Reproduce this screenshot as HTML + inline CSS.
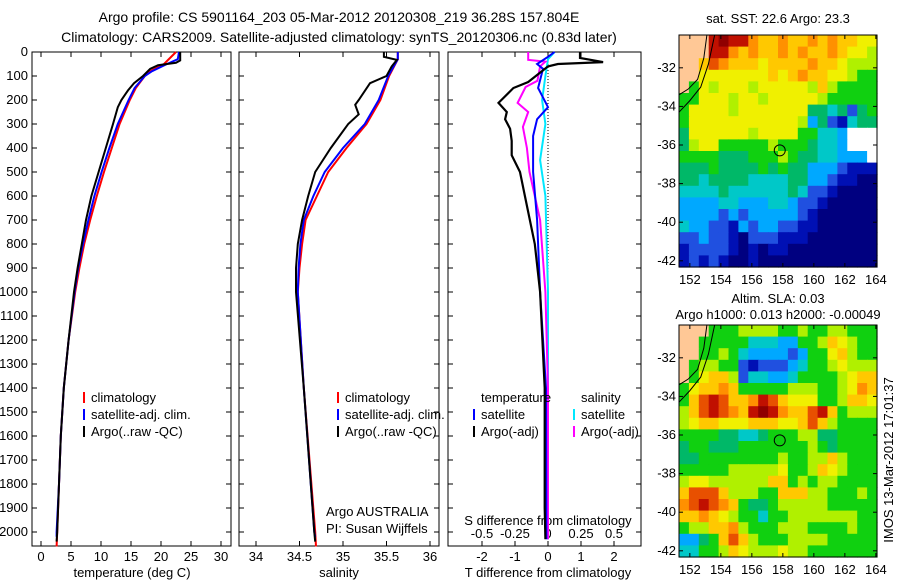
<!DOCTYPE html>
<html><head><meta charset="utf-8"><style>
html,body{margin:0;padding:0;background:#fff;}
svg{display:block;font-family:"Liberation Sans",Arial,sans-serif;}
</style></head><body>
<svg id="fig" width="900" height="580" viewBox="0 0 900 580" xmlns="http://www.w3.org/2000/svg">
<text x="339" y="22" font-size="14" text-anchor="middle">Argo profile: CS 5901164_203 05-Mar-2012 20120308_219 36.28S 157.804E</text>
<text x="339" y="42" font-size="14" text-anchor="middle">Climatology: CARS2009. Satellite-adjusted climatology: synTS_20120306.nc (0.83d later)</text>
<text x="778" y="23" font-size="13" text-anchor="middle">sat. SST: 22.6 Argo: 23.3</text>
<text x="778" y="303" font-size="13" text-anchor="middle">Altim. SLA: 0.03</text>
<text x="778" y="319" font-size="13" text-anchor="middle">Argo h1000: 0.013 h2000: -0.00049</text>
<text x="0" y="0" font-size="13" text-anchor="middle" transform="translate(893,460) rotate(-90)">IMOS 13-Mar-2012 17:01:37</text>
<g id="g"></g>
</svg>
<script>
// ---- profile data ----
const argoTDepth=[0,35,45,55,70,100,130,160,200,230,300,400,500,600,700,800,900,1000,1200,1400,1600,1800,2000,2040];
const argoTVal=[23.2,23.2,22.5,19.5,18.2,17.0,15.5,14.5,13.4,12.8,12.0,10.8,9.6,8.4,7.5,6.8,6.1,5.5,4.6,3.8,3.3,3.0,2.7,2.6];
const climTDepth=[0,50,80,100,150,200,300,400,500,600,700,800,900,1000,1200,1400,1600,1800,2000,2060];
const climTVal=[22.5,20.5,18.2,17.3,15.8,14.8,13.1,11.8,10.5,9.3,8.2,7.2,6.4,5.7,4.6,3.8,3.3,3.0,2.7,2.6];
const satTDepth=[0,30,50,80,100,150,200,300,400,500,600,700,800,900,1000,1200,1400,1600,1800,2000,2020];
const satTVal=[23.0,22.8,21.0,18.5,17.3,15.6,14.6,12.8,11.4,10.1,8.9,7.9,7.0,6.2,5.6,4.6,3.8,3.3,3.0,2.6,2.6];
const argoSDepth=[0,20,33,60,100,130,200,220,260,300,400,500,600,700,800,900,1000,1400,2000,2040];
const argoSVal=[35.47,35.47,35.62,35.56,35.5,35.31,35.18,35.14,35.18,35.06,34.86,34.68,34.6,34.53,34.48,34.46,34.46,34.55,34.67,34.68];
const climSDepth=[0,30,100,200,300,400,500,600,700,800,900,1000,1400,2000,2060];
const climSVal=[35.63,35.63,35.53,35.43,35.27,35.04,34.83,34.7,34.57,34.53,34.5,34.48,34.55,34.68,34.69];
const satSDepth=[0,30,100,200,300,400,500,600,700,800,900,1000,1400,2000,2020];
const satSVal=[35.63,35.63,35.52,35.41,35.25,35.0,34.79,34.66,34.55,34.51,34.49,34.48,34.55,34.67,34.68];
const dTArgoDepth=[0,25,42,50,60,125,150,212,250,280,320,370,430,500,600,800,1000,1400,1900,2030];
const dTArgoVal=[0.97,0.97,1.67,0.3,0,-0.6,-1.05,-1.5,-1.25,-1.3,-1.15,-1.1,-1.1,-0.85,-0.7,-0.4,-0.24,-0.1,-0.1,-0.08];
const dTSatDepth=[0,20,50,70,150,230,280,350,500,700,1000,1400,2030];
const dTSatVal=[0.2,0,-0.33,-0.15,-0.3,0,-0.33,-0.45,-0.45,-0.33,-0.24,-0.06,-0.05];
const dSArgoDepth=[0,33,40,60,120,146,212,250,312,400,500,700,1000,1400,2030];
const dSArgoVal=[-0.15,-0.15,-0.02,-0.06,-0.08,-0.17,-0.23,-0.15,-0.19,-0.16,-0.14,-0.06,-0.02,0,0];
const dSSatDepth=[0,30,100,200,300,450,600,1000,2030];
const dSSatVal=[0.05,0,-0.02,-0.045,-0.02,-0.06,-0.02,0,0];
const depthTicks=[0,100,200,300,400,500,600,700,800,900,1000,1100,1200,1300,1400,1500,1600,1700,1800,1900,2000];
const tTicks=[0,5,10,15,20,25,30];
const sTicks=[34,34.5,35,35.5,36];
const dTTicks=[-2,-1,0,1,2];
const dSTicks=[-0.5,-0.25,0,0.25,0.5];
const dSTickLabels=["-0.5","-0.25","0","0.25","0.5"];
// ---- map data (20 cols x 20 rows; L=land, W=no data) ----
const sstGrid=["LLLcdcca99a99a9a9988","LLLcca9a99a9a99a9887","LL9ba99989999a998777","LL8888888989a9988766","L6878887888887976666","66888788788888766666","68888788888885545256","68888888888873521455","58888887888866443WWW","57886666676665443WWW","6666555666765544333W","55565555656553332111","55455554444553321100","44445444444542210000","33334433344322100000","33332323333321000000","43322132332211000000","22322102221110000000","12222101011000000000","12121001000000000000"];
const slaGrid=["LLL66677776676677666","LL666664443366798766","LL667643333236689766","L6776621222346678777","L6899724433466667899","6899a9666667776678a9","69bcb99acb9888667998","79bcba9cdca99bc96777","7899888999889b976666","66665544566677556666","56655566666667656666","55666666667667797666","66666777778667987666","78877777799676776666","9bbb9777669997766676","abcba965567777766666","99a98766466777777766","67799a76667776666766","33569b97666777766666","44667987778776666666"];
const lonTicks=[152,154,156,158,160,162,164];
const latTicks=[-32,-34,-36,-38,-40,-42];
const argoLon=157.8, argoLat=-36.28;

const palette={"0":"#000080","1":"#0010b4","2":"#2050e0","3":"#00a8ff","4":"#00c8c8","5":"#00b868","6":"#10d010","7":"#b0f000","8":"#f0f000","9":"#ffc800","a":"#ff9000","b":"#e85000","c":"#c01000","d":"#900000","L":"#ffc896","W":"#ffffff"};
const NS="http://www.w3.org/2000/svg";
const G=document.getElementById('g');
const FS=13;
function mk(tag,attrs,parent){const e=document.createElementNS(NS,tag);for(const k in attrs)e.setAttribute(k,attrs[k]);(parent||G).appendChild(e);return e;}
const yD=d=>52+0.24*d;
const TOP=52,BOT=546;
const panels=[
 {x0:32,x1:231,sx:v=>41+6*v,name:'temperature-panel'},
 {x0:239,x1:439,sx:v=>256+87*(v-34),name:'salinity-panel'},
 {x0:448,x1:641,sx:v=>548+33*v,name:'difference-panel'}];
const xS2=v=>548+132*v;
function line(dep,val,sx,color,w,name){
  const pts=dep.map((d,i)=>sx(val[i]).toFixed(1)+","+yD(d).toFixed(1)).join(" ");
  const p=mk('polyline',{points:pts,fill:'none',stroke:color,'stroke-width':w,'stroke-linejoin':'miter'});
  
  
}
panels.forEach((P,pi)=>{
  const r=mk('rect',{x:P.x0,y:TOP,width:P.x1-P.x0,height:BOT-TOP,fill:'none',stroke:'#000','stroke-width':1});
  
  
  depthTicks.forEach(d=>{
    mk('line',{x1:P.x0,x2:P.x0+5,y1:yD(d),y2:yD(d),stroke:'#000'});
    mk('line',{x1:P.x1-5,x2:P.x1,y1:yD(d),y2:yD(d),stroke:'#000'});
    if(pi===0){const t=mk('text',{x:28,y:yD(d)+4,'font-size':FS,'text-anchor':'end'});t.textContent=d;
      
      }
  });
});
function xticks(P,ticks,labels,y,sx){
  ticks.forEach((v,i)=>{const x=sx(v);
    mk('line',{x1:x,x2:x,y1:BOT-5,y2:BOT,stroke:'#000'});
    mk('line',{x1:x,x2:x,y1:TOP,y2:TOP+5,stroke:'#000'});
    const t=mk('text',{x:x,y:y,'font-size':FS,'text-anchor':'middle'});t.textContent=labels[i];
    
    });
}
xticks(panels[0],tTicks,tTicks.map(String),561,panels[0].sx);
xticks(panels[1],sTicks,sTicks.map(String),561,panels[1].sx);
xticks(panels[2],dTTicks,dTTicks.map(String),561,panels[2].sx);
dSTicks.forEach((v,i)=>{const t=mk('text',{x:xS2(v),y:538,'font-size':FS,'text-anchor':'middle'});t.textContent=dSTickLabels[i];
  
  });
function lab(x,y,s,name,anchor){const t=mk('text',{x:x,y:y,'font-size':FS,'text-anchor':anchor||'middle'});t.textContent=s;
  
  }
lab(132,577,'temperature (deg C)','x-axis-title-temperature');
lab(339,577,'salinity','x-axis-title-salinity');
lab(548,577,'T difference from climatology','x-axis-title-t-diff');
lab(548,525,'S difference from climatology','s-diff-axis-title');
lab(326,516,'Argo AUSTRALIA','argo-australia-label','start');
lab(326,533,'PI: Susan Wijffels','pi-label','start');
const zl=mk('line',{x1:548,x2:548,y1:TOP,y2:BOT,stroke:'#000','stroke-dasharray':'1,2'});


line(climTDepth,climTVal,panels[0].sx,'#ff0000',2,'climatology-temperature-line');
line(satTDepth,satTVal,panels[0].sx,'#0000ff',2,'satellite-temperature-line');
line(argoTDepth,argoTVal,panels[0].sx,'#000000',2,'argo-temperature-line');
line(climSDepth,climSVal,panels[1].sx,'#ff0000',2,'climatology-salinity-line');
line(satSDepth,satSVal,panels[1].sx,'#0000ff',2,'satellite-salinity-line');
line(argoSDepth,argoSVal,panels[1].sx,'#000000',2,'argo-salinity-line');
line(dSSatDepth,dSSatVal,xS2,'#00e8ff',2,'satellite-s-diff-line');
line(dSArgoDepth,dSArgoVal,xS2,'#ff00ff',2,'argo-s-diff-line');
line(dTSatDepth,dTSatVal,panels[2].sx,'#0000ff',2,'satellite-t-diff-line');
line(dTArgoDepth,dTArgoVal,panels[2].sx,'#000000',2.2,'argo-t-diff-line');
function leg(x,y,color,text,name){
  const r=mk('rect',{x:x,y:y-6,width:2,height:11,fill:color});
  
  
  lab(x+8,y+4,text,name,'start');
}
[[83,'climatology','#ff0000'],[83,'satellite-adj. clim.','#0000ff'],[83,'Argo(..raw -QC)','#000']].forEach((e,i)=>leg(e[0],398+i*17,e[2],e[1],'legend-entry'));
[[337,'climatology','#ff0000'],[337,'satellite-adj. clim.','#0000ff'],[337,'Argo(..raw -QC)','#000']].forEach((e,i)=>leg(e[0],398+i*17,e[2],e[1],'legend-entry'));
lab(481,402,'temperature','legend-header-temperature','start');
lab(581,402,'salinity','legend-header-salinity','start');
leg(473,415,'#0000ff','satellite','legend-entry');
leg(473,432,'#000','Argo(-adj)','legend-entry');
leg(573,415,'#00e8ff','satellite','legend-entry');
leg(573,432,'#ff00ff','Argo(-adj)','legend-entry');
function drawMap(grid,y0,name){
  const X0=679,X1=877,Y0=y0,Y1=y0+232;
  const lonX=l=>X0+(l-151.3)*15.5, latY=l=>Y0+(-30.3-l)*19.3;
  const cw=(X1-X0)/20, ch=(Y1-Y0)/20;
  const g=mk('g',{});
  
  
  grid.forEach((row,r)=>{for(let c=0;c<20;c++){
    mk('rect',{x:(X0+c*cw).toFixed(2),y:(Y0+r*ch).toFixed(2),width:(cw+0.6).toFixed(2),height:(ch+0.6).toFixed(2),fill:palette[row[c]]},g);}});
  mk('polyline',{points:`${lonX(153.1)},${Y0} ${lonX(152.9)},${latY(-31.5)} ${lonX(152.5)},${latY(-32.6)} ${lonX(151.9)},${latY(-33.1)} ${lonX(151.3)},${latY(-33.4)}`,fill:'none',stroke:'#000','stroke-width':1},g);
  mk('polyline',{points:`${lonX(153.6)},${Y0} ${lonX(153.2)},${latY(-31.8)} ${lonX(152.7)},${latY(-33.0)} ${lonX(152.0)},${latY(-33.7)} ${lonX(151.3)},${latY(-34.3)}`,fill:'none',stroke:'#000','stroke-width':1},g);
  mk('rect',{x:X0,y:Y0,width:X1-X0,height:Y1-Y0,fill:'none',stroke:'#000'},g);
  lonTicks.forEach(l=>{const x=lonX(l);mk('line',{x1:x,x2:x,y1:Y1-4,y2:Y1,stroke:'#000'},g);mk('line',{x1:x,x2:x,y1:Y0,y2:Y0+4,stroke:'#000'},g);
    const t=mk('text',{x:x,y:Y1+17,'font-size':FS,'text-anchor':'middle'},g);t.textContent=l;
    
    });
  latTicks.forEach(l=>{const y=latY(l);mk('line',{x1:X0,x2:X0+4,y1:y,y2:y,stroke:'#000'},g);mk('line',{x1:X1-4,x2:X1,y1:y,y2:y,stroke:'#000'},g);
    const t=mk('text',{x:X0-3,y:y+4,'font-size':FS,'text-anchor':'end'},g);t.textContent=l;
    
    });
  const c=mk('circle',{cx:lonX(argoLon),cy:latY(argoLat),r:5.5,fill:'none',stroke:'#000','stroke-width':1},g);
  
  
}
drawMap(sstGrid,35,'sst-map');
drawMap(slaGrid,325,'sla-map');
</script>
</body></html>
